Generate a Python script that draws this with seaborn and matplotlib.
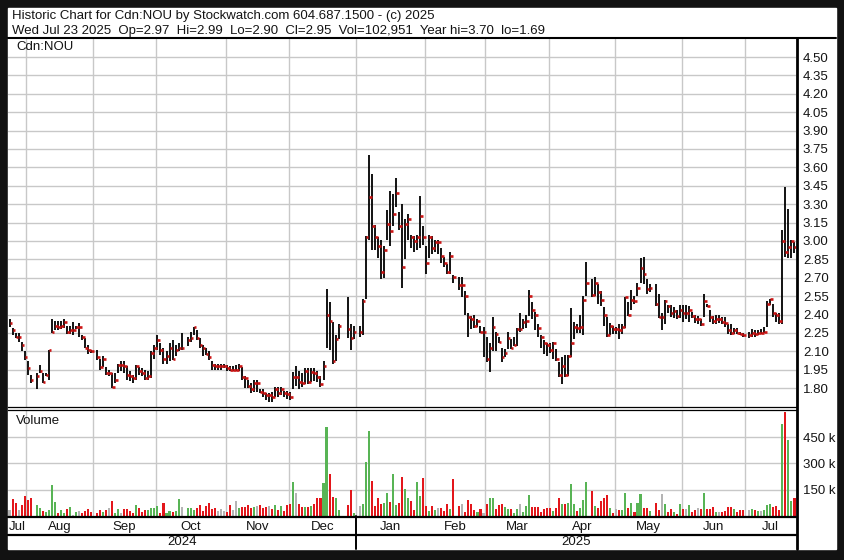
import numpy as np
import pandas as pd
import matplotlib
matplotlib.use("Agg")
import matplotlib.pyplot as plt
from matplotlib.lines import Line2D
from matplotlib.patches import Rectangle
import seaborn as sns

# daily bars for Cdn:NOU, one line per month (Jul 2024 .. Jul 2025), trading days only
closes = [
    2.33, 2.27, 2.22, 2.22, 2.15, 2.05,
    1.96, 1.87, 1.90, 1.94, 1.85, 1.91, 2.11, 2.26, 2.31, 2.30, 2.31, 2.34, 2.26, 2.27, 2.27, 2.30, 2.30, 2.22, 2.13, 2.11, 2.10,
    2.05, 1.97, 2.04, 1.92, 1.92, 1.81, 1.87, 1.99, 1.99, 1.98, 1.91, 1.90, 1.88, 1.98, 1.94, 1.92, 1.88, 1.90, 2.09, 2.13,
    2.19, 2.11, 2.04, 2.06, 2.13, 2.04, 2.11, 2.13, 2.13, 2.19, 2.21, 2.30, 2.21, 2.15, 2.13, 2.08, 2.05, 1.99, 1.98, 1.98, 1.98, 1.98,
    1.96, 1.95, 1.95, 1.95, 1.98, 1.89, 1.88, 1.82, 1.79, 1.84, 1.84, 1.77, 1.76, 1.74, 1.74, 1.73, 1.79, 1.76, 1.79, 1.76, 1.75,
    1.73, 1.89, 1.89, 1.85, 1.84, 1.94, 1.85, 1.93, 1.92, 1.89, 1.83, 1.98, 2.40, 2.35, 2.02, 2.20, 2.31, 2.28, 2.21, 2.26,
    2.26, 2.51, 3.03, 3.36, 3.12, 3.03, 2.96, 2.75, 2.93, 3.14, 3.08, 3.22, 3.39, 3.12, 2.79, 3.14, 3.18, 3.03, 3.00, 3.03, 3.20, 3.03,
    2.82, 3.03, 2.94, 2.99, 2.99, 2.88, 2.82, 2.75, 2.88, 2.71, 2.64, 2.64, 2.55, 2.38, 2.36, 2.31, 2.35, 2.26, 2.26,
    2.04, 2.13, 2.30, 2.24, 2.18, 2.05, 2.09, 2.21, 2.13, 2.15, 2.28, 2.28, 2.34, 2.35, 2.55, 2.44, 2.40, 2.29, 2.22, 2.17, 2.15,
    2.11, 2.17, 2.04, 1.91, 1.98, 1.91, 2.06, 2.17, 2.30, 2.29, 2.30, 2.52, 2.66, 2.56, 2.66, 2.58, 2.52, 2.40, 2.23, 2.31, 2.28,
    2.28, 2.27, 2.30, 2.54, 2.40, 2.52, 2.51, 2.62, 2.78, 2.73, 2.61, 2.62, 2.49, 2.38, 2.38, 2.51, 2.47, 2.41, 2.43, 2.39, 2.44,
    2.41, 2.41, 2.44, 2.39, 2.36, 2.36, 2.32, 2.51, 2.47, 2.38, 2.35, 2.36, 2.36, 2.34, 2.33, 2.27, 2.25, 2.27, 2.25, 2.24, 2.23,
    2.23, 2.25, 2.24, 2.25, 2.25, 2.26, 2.49, 2.53, 2.41, 2.40, 2.35, 3.00, 2.91, 2.95, 3.00, 2.95,
]
highs = [
    2.36, 2.29, 2.25, 2.25, 2.18, 2.10,
    2.02, 1.91, 1.92, 1.99, 1.92, 1.92, 2.11, 2.36, 2.35, 2.35, 2.35, 2.36, 2.31, 2.31, 2.34, 2.31, 2.33, 2.23, 2.21, 2.15, 2.11,
    2.11, 2.04, 2.06, 1.97, 1.95, 1.92, 1.92, 2.00, 2.02, 2.02, 1.98, 1.94, 1.91, 1.99, 1.97, 1.96, 1.95, 1.94, 2.10, 2.15,
    2.23, 2.17, 2.13, 2.10, 2.17, 2.19, 2.15, 2.17, 2.25, 2.22, 2.26, 2.30, 2.27, 2.21, 2.15, 2.13, 2.10, 2.02, 2.00, 2.00, 2.00, 2.00,
    1.99, 1.98, 1.98, 1.99, 2.00, 1.97, 1.90, 1.87, 1.84, 1.87, 1.87, 1.79, 1.79, 1.76, 1.76, 1.77, 1.81, 1.81, 1.81, 1.78, 1.78,
    1.77, 1.93, 1.98, 1.94, 1.92, 1.96, 1.96, 1.96, 1.96, 1.94, 1.90, 2.02, 2.61, 2.50, 2.34, 2.23, 2.32, 2.54, 2.32, 2.31,
    2.31, 2.53, 3.04, 3.70, 3.55, 3.13, 3.03, 3.01, 2.96, 3.25, 3.41, 3.38, 3.51, 3.24, 3.30, 3.18, 3.22, 3.05, 3.04, 3.05, 3.37, 3.12,
    2.96, 3.05, 3.04, 3.01, 3.01, 2.94, 2.87, 2.81, 2.91, 2.72, 2.71, 2.71, 2.59, 2.41, 2.39, 2.40, 2.36, 2.31, 2.30,
    2.22, 2.17, 2.38, 2.26, 2.22, 2.13, 2.12, 2.26, 2.20, 2.22, 2.29, 2.41, 2.36, 2.40, 2.60, 2.50, 2.42, 2.32, 2.23, 2.19, 2.17,
    2.17, 2.18, 2.12, 2.01, 2.05, 2.07, 2.07, 2.45, 2.34, 2.32, 2.40, 2.55, 2.83, 2.69, 2.71, 2.65, 2.59, 2.46, 2.38, 2.33, 2.31,
    2.30, 2.32, 2.32, 2.54, 2.50, 2.60, 2.55, 2.66, 2.86, 2.87, 2.69, 2.65, 2.65, 2.57, 2.41, 2.52, 2.48, 2.48, 2.46, 2.44, 2.48,
    2.48, 2.48, 2.47, 2.42, 2.40, 2.39, 2.36, 2.57, 2.49, 2.44, 2.39, 2.40, 2.40, 2.38, 2.38, 2.32, 2.32, 2.29, 2.29, 2.26, 2.25,
    2.26, 2.28, 2.27, 2.27, 2.28, 2.30, 2.51, 2.53, 2.49, 2.41, 2.41, 3.09, 3.44, 3.26, 3.01, 2.99,
]
lows = [
    2.30, 2.23, 2.21, 2.18, 2.10, 2.03,
    1.91, 1.84, 1.79, 1.92, 1.84, 1.90, 1.87, 2.25, 2.27, 2.27, 2.28, 2.29, 2.24, 2.24, 2.23, 2.28, 2.22, 2.19, 2.13, 2.08, 2.09,
    2.03, 1.95, 1.97, 1.91, 1.90, 1.80, 1.84, 1.92, 1.94, 1.92, 1.87, 1.86, 1.84, 1.87, 1.91, 1.90, 1.87, 1.87, 1.88, 2.04,
    2.11, 2.07, 2.00, 2.00, 2.02, 2.03, 2.06, 2.10, 2.11, 2.14, 2.18, 2.23, 2.19, 2.13, 2.06, 2.07, 2.03, 1.95, 1.95, 1.95, 1.95, 1.96,
    1.94, 1.94, 1.94, 1.94, 1.94, 1.87, 1.80, 1.80, 1.76, 1.77, 1.77, 1.76, 1.73, 1.70, 1.69, 1.69, 1.73, 1.73, 1.74, 1.73, 1.71,
    1.70, 1.79, 1.82, 1.79, 1.81, 1.83, 1.83, 1.85, 1.86, 1.85, 1.81, 1.87, 2.13, 2.11, 2.00, 2.02, 2.20, 2.21, 2.11, 2.20,
    2.22, 2.23, 2.53, 3.01, 2.93, 2.93, 2.86, 2.69, 2.70, 3.01, 2.96, 3.12, 3.28, 3.09, 2.62, 2.85, 3.01, 2.94, 2.91, 2.93, 2.94, 2.97,
    2.73, 2.86, 2.89, 2.91, 2.89, 2.82, 2.79, 2.73, 2.73, 2.66, 2.60, 2.54, 2.40, 2.22, 2.28, 2.29, 2.30, 2.25, 2.05,
    2.01, 1.93, 2.10, 2.10, 2.17, 2.01, 2.05, 2.12, 2.12, 2.14, 2.14, 2.26, 2.28, 2.29, 2.39, 2.36, 2.27, 2.22, 2.13, 2.08, 2.06,
    2.09, 2.04, 2.02, 1.89, 1.83, 1.89, 1.90, 2.05, 2.20, 2.25, 2.25, 2.23, 2.55, 2.54, 2.55, 2.49, 2.47, 2.31, 2.22, 2.23, 2.24,
    2.24, 2.20, 2.24, 2.29, 2.39, 2.44, 2.49, 2.55, 2.66, 2.65, 2.57, 2.58, 2.47, 2.37, 2.27, 2.32, 2.41, 2.38, 2.37, 2.36, 2.37,
    2.34, 2.36, 2.34, 2.37, 2.33, 2.32, 2.31, 2.38, 2.46, 2.34, 2.32, 2.32, 2.33, 2.32, 2.30, 2.24, 2.23, 2.24, 2.24, 2.23, 2.22,
    2.21, 2.22, 2.22, 2.23, 2.24, 2.25, 2.30, 2.48, 2.38, 2.34, 2.32, 2.32, 2.87, 2.86, 2.86, 2.90,
]
# volume in thousands of shares
volumes = [
    35, 98, 73, 35, 63, 115,
    92, 104, 61, 44, 29, 25, 35, 179, 81, 17, 35, 17, 38, 52, 6, 25, 29, 19, 31, 42, 21,
    17, 35, 25, 36, 44, 86, 19, 42, 19, 42, 38, 29, 19, 63, 48, 25, 35, 35, 48, 48,
    58, 19, 73, 19, 29, 25, 29, 98, 50, 48, 46, 36, 48, 60, 27, 58, 72, 38, 48, 27, 42, 31,
    25, 63, 35, 86, 48, 50, 50, 63, 45, 52, 58, 63, 45, 50, 58, 40, 63, 35, 58, 29, 60,
    69, 195, 132, 69, 54, 50, 54, 58, 69, 100, 100, 186, 508, 240, 109, 100, 35, 63, 150, 19,
    58, 71, 307, 483, 201, 58, 102, 67, 75, 130, 81, 240, 63, 73, 224, 153, 102, 86, 33, 192, 114, 215,
    57, 29, 57, 33, 44, 44, 29, 67, 40, 209, 57, 71, 23, 90, 67, 33, 25, 38, 19,
    70, 101, 101, 38, 61, 67, 53, 38, 38, 19, 38, 67, 23, 57, 118, 51, 51, 51, 23, 38, 48,
    44, 29, 48, 105, 67, 67, 72, 180, 70, 29, 44, 89, 196, 140, 57, 48, 86, 101, 118, 44, 19,
    38, 32, 34, 133, 44, 72, 23, 72, 124, 48, 44, 29, 76, 34, 124, 67, 25, 38, 25, 13, 67,
    38, 38, 61, 23, 32, 44, 38, 133, 38, 38, 53, 23, 25, 25, 29, 53, 53, 38, 25, 32, 32,
    32, 38, 32, 29, 29, 32, 61, 67, 51, 57, 32, 522, 595, 433, 86, 103,
]

# TSX holidays (slots left empty on the weekday axis)
holidays = ["2024-08-05", "2024-09-02", "2024-10-14", "2024-12-25", "2024-12-26",
            "2025-01-01", "2025-02-17", "2025-04-18", "2025-05-19", "2025-07-01"]
price_ticks = [1.80, 1.95, 2.10, 2.25, 2.40, 2.55, 2.70, 2.85, 3.00, 3.15,
               3.30, 3.45, 3.60, 3.75, 3.90, 4.05, 4.20, 4.35, 4.50]
vol_ticks = [150, 300, 450]
vol_tick_labels = ["150 k", "300 k", "450 k"]
header1 = "Historic Chart for Cdn:NOU by Stockwatch.com 604.687.1500 - (c) 2025"
header2 = "Wed Jul 23 2025  Op=2.97  Hi=2.99  Lo=2.90  Cl=2.95  Vol=102,951  Year hi=3.70  lo=1.69"

W, H = 844, 560
sns.set_theme(style="white")
plt.rcParams["font.family"] = ["Liberation Sans", "DejaVu Sans"]
TXT = "#141414"
GRID = "#c8c8c8"
vol_colors = {"up": "#58b455", "down": "#e3161b", "flat": "#b4b4b4"}

weekdays = pd.bdate_range("2024-07-24", "2025-07-23")
trade_days = weekdays[~weekdays.isin(pd.to_datetime(holidays))]
df = pd.DataFrame({"slot": weekdays.get_indexer(trade_days), "close": closes,
                   "high": highs, "low": lows, "vol": volumes})
chg = df["close"].diff()
df["dir"] = np.where(chg > 0, "up", np.where(chg < 0, "down", "flat"))
dir_by_slot = dict(zip(df["slot"], df["dir"]))

# month boundaries on the weekday axis
per = weekdays.to_period("M")
firsts = [i for i in range(len(per)) if i == 0 or per[i] != per[i - 1]]
bounds = [f - 0.4 for f in firsts[1:]]
xlo, xhi = -0.5, len(weekdays) - 0.5
edges = [xlo] + bounds + [xhi]
month_names = [per[f].strftime("%b") for f in firsts]


def box(x0, y0, x1, y1):
    return [x0 / W, 1 - y1 / H, (x1 - x0) / W, (y1 - y0) / H]


def hline(y, x0, x1, lw):
    fig.add_artist(Line2D([x0 / W, x1 / W], [1 - y / H, 1 - y / H], color="black", lw=lw, zorder=5))


def vline(x, y0, y1, lw):
    fig.add_artist(Line2D([x / W, x / W], [1 - y0 / H, 1 - y1 / H], color="black", lw=lw, zorder=5))


fig = plt.figure(figsize=(W / 100, H / 100), dpi=100, facecolor="#121212")
fig.add_artist(Rectangle((8 / W, 1 - 549 / H), 828 / W, 541 / H,
                         transform=fig.transFigure, color="white", zorder=-10))

fig.text(12 / W, 1 - 16.5 / H, header1, fontsize=9.5, color=TXT, va="center")
fig.text(12 / W, 1 - 31 / H, header2, fontsize=9.5, color=TXT, va="center")

# price panel
ax_p = fig.add_axes(box(8, 39, 796, 407))
ax_p.set_xlim(xlo, xhi)
ax_p.set_ylim(1.646, 4.647)
ax_p.set_xticks(bounds)
ax_p.set_yticks(price_ticks)
ax_p.set_yticklabels([f"{t:.2f}" for t in price_ticks])
ax_p.grid(True, color=GRID, lw=1.0)
ax_p.yaxis.tick_right()
ax_p.tick_params(axis="x", length=0, labelbottom=False)
ax_p.tick_params(axis="y", length=0, pad=5, labelsize=9.5, labelcolor=TXT)
for s in ["top", "left", "right"]:
    ax_p.spines[s].set_visible(False)
ax_p.spines["bottom"].set_color("black")
ax_p.spines["bottom"].set_linewidth(0.9)
ax_p.vlines(df["slot"], df["low"], df["high"], color="black", lw=1.3)
ax_p.hlines(df["close"], df["slot"], df["slot"] + 0.9, color="#cc1414", lw=1.9)
fig.text(16 / W, 1 - 47 / H, "Cdn:NOU", fontsize=9.5, color=TXT, va="center")

# volume panel: one bar per trading day, coloured by the day's close change
ax_v = fig.add_axes(box(8, 410, 796, 516))
sns.barplot(data=df, x="slot", y="vol", native_scale=True, color=vol_colors["flat"],
            width=0.7, saturation=1, errorbar=None, linewidth=0, ax=ax_v)
for bar in ax_v.patches:
    c = bar.get_x() + bar.get_width() / 2
    s = int(round(c))
    bar.set_x(s - 0.34)
    bar.set_width(0.68)
    bar.set_facecolor(vol_colors[dir_by_slot.get(s, "flat")])
    bar.set_antialiased(False)
ax_v.set_xlim(xlo, xhi)
ax_v.set_ylim(0, 604)
ax_v.set_xlabel("")
ax_v.set_ylabel("")
ax_v.set_xticks(bounds)
ax_v.set_yticks(vol_ticks)
ax_v.set_yticklabels(vol_tick_labels)
ax_v.grid(True, color=GRID, lw=1.0)
ax_v.set_axisbelow(True)
ax_v.yaxis.tick_right()
ax_v.tick_params(axis="x", length=0, labelbottom=False)
ax_v.tick_params(axis="y", length=0, pad=5, labelsize=9.5, labelcolor=TXT)
for s in ["left", "right", "bottom"]:
    ax_v.spines[s].set_visible(False)
ax_v.spines["top"].set_color("black")
ax_v.spines["top"].set_linewidth(0.9)
fig.text(16 / W, 1 - 421 / H, "Volume", fontsize=9.5, color=TXT, va="center")

# month and year rows
ax_m = fig.add_axes(box(8, 517, 796, 535))
ax_y = fig.add_axes(box(8, 535, 796, 549))
for a in (ax_m, ax_y):
    a.set_xlim(xlo, xhi)
    a.set_ylim(0, 1)
    a.set_xticks([])
    a.set_yticks([])
    a.set_facecolor("none")
    for s in a.spines.values():
        s.set_visible(False)
for name, a, b in zip(month_names, edges[:-1], edges[1:]):
    ax_m.text((a + b) / 2, 0.45, name, ha="center", va="center", fontsize=9.5, color=TXT)
jan = bounds[month_names.index("Jan") - 1]
for yr, a, b in [("2024", xlo, jan), ("2025", jan, xhi)]:
    ax_y.text((a + b) / 2, 0.5, yr, ha="center", va="center", fontsize=9.5, color=TXT)

# frame lines
jan_px = 8 + (jan - xlo) / (xhi - xlo) * 788
hline(38, 8, 836, 1.5)
hline(516.5, 8, 796, 1.6)
hline(535, 8, 796, 1.6)
vline(796.5, 38, 549, 2.0)
vline(jan_px, 516, 549, 1.4)

fig.savefig("out.png", dpi=100, facecolor=fig.get_facecolor())
